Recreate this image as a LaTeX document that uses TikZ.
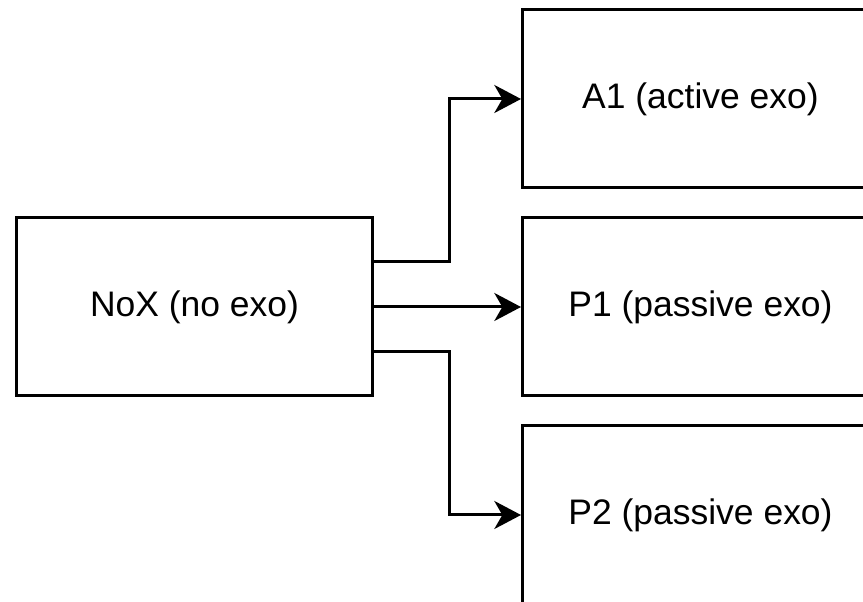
\documentclass[tikz,border=0pt]{standalone}
\usepackage{fontspec}
\setmainfont{Liberation Sans}
\usetikzlibrary{arrows.meta}
\tikzset{
 box/.style={draw, line width=2.25pt, minimum width=267pt, minimum height=133.5pt, inner sep=0pt, font=\fontsize{26.6}{32}\selectfont},
 link/.style={line width=2.25pt, -{Stealth[length=20pt, width=21pt, inset=6pt]}}
}
\begin{document}
\begin{tikzpicture}[x=0.75pt, y=0.75pt]
\useasboundingbox (0,0) rectangle (863,602);
\clip (0,0) rectangle (863,602);
\node[box] (nox) at (194.5,295) {NoX (no exo)};
\node[box] (a1) at (700.5,503) {A1 (active exo)};
\node[box] (p1) at (700.5,295) {P1 (passive exo)};
\node[box] (p2) at (700.5,87) {P2 (passive exo)};
\draw[link] ([yshift=33.75pt]nox.east) -- ++(75,0) |- (a1.west);
\draw[link] (nox.east) -- (p1.west);
\draw[link] ([yshift=-33.75pt]nox.east) -- ++(75,0) |- (p2.west);
\end{tikzpicture}
\end{document}
